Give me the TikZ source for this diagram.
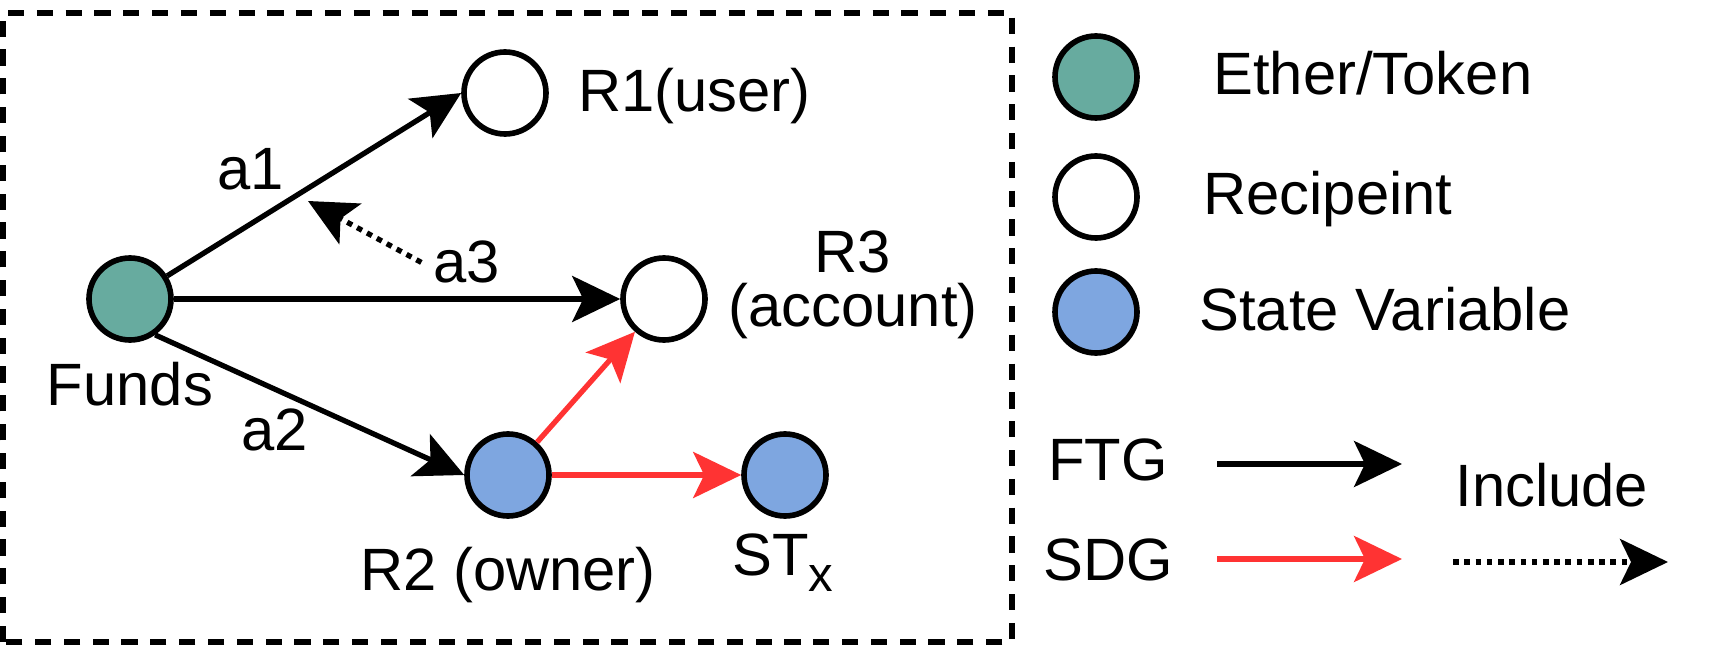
\documentclass[tikz,border=0pt]{standalone}
\usepackage{fontspec}
\setmainfont{Liberation Sans}
\usetikzlibrary{arrows.meta}
\definecolor{fundgreen}{HTML}{67AB9F}
\definecolor{varblue}{HTML}{7EA6E0}
\definecolor{depred}{HTML}{FF3333}

\begin{document}
\begin{tikzpicture}[every node/.style={font=\fontsize{17}{21}\selectfont},
    dot/.style={circle,draw,line width=1.6pt,minimum size=0.82cm,inner sep=0pt},
    fund/.style={dot,fill=fundgreen},recv/.style={dot,fill=white},svar/.style={dot,fill=varblue},
    ftg/.style={line width=1.5pt,-{Stealth[length=4.8mm,width=4.6mm,inset=1.1mm]}},
    sdg/.style={ftg,color=depred},
    incl/.style={ftg,dash pattern=on 1.6pt off 1.6pt}]
        \useasboundingbox (0,0) rectangle (17.15,6.55);
        \draw[line width=1.6pt,dash pattern=on 4.6pt off 3.6pt] (0.03,0.13) rectangle (10.12,6.42);
        \node[fund] (funds) at (1.30,3.56) {};
        \node[recv] (r1) at (5.05,5.62) {};
        \node[recv] (r3) at (6.64,3.56) {};
        \node[svar] (r2) at (5.08,1.80) {};
        \node[svar] (stx) at (7.85,1.80) {};
        \node[anchor=base] (fundslbl) at (1.30,2.50) {Funds};
        \node[anchor=base west] (r1lbl) at (5.66,5.43) {R1(user)};
        \node[anchor=south,align=center,inner sep=0pt,font=\fontsize{17}{15.5}\selectfont] (r3lbl) at (8.53,3.15) {R3\\(account)};
        \node[anchor=base] (r2lbl) at (5.08,0.65) {R2 (owner)};
        \node[anchor=base west] (stxlbl) at (7.20,0.80) {ST\raisebox{-4.8pt}{\fontsize{14}{14}\selectfont x}};
        \node[anchor=base] (a1) at (2.51,4.65) {a1};
        \node[anchor=base] (a3) at (4.67,3.72) {a3};
        \node[anchor=base] (a2) at (2.75,2.05) {a2};
        \draw[ftg] (funds) -- (r1.west);
        \draw[ftg] (funds) -- (r3);
        \draw[ftg] (funds.-55) -- (r2.west);
        \draw[sdg] (r2) -- (r3);
        \draw[sdg] (r2) -- (stx);
        \coordinate (a3tip) at (3.08,4.54);
        \draw[incl] (a3.west) -- (a3tip);
        \node[fund] (lgfund) at (10.96,5.78) {};
        \node[recv] (lgrecv) at (10.96,4.58) {};
        \node[svar] (lgsvar) at (10.96,3.43) {};
        \node[anchor=base west] (lgfundlbl) at (12.01,5.60) {Ether/Token};
        \node[anchor=base west] (lgrecvlbl) at (11.91,4.40) {Recipeint};
        \node[anchor=base west] (lgsvarlbl) at (11.87,3.25) {State Variable};
        \node[anchor=base] (ftglbl) at (11.08,1.75) {FTG};
        \node[anchor=base] (sdglbl) at (11.08,0.75) {SDG};
        \node[anchor=base west] (incllbl) at (14.43,1.49) {Include};
        \coordinate (ftgA) at (12.17,1.91); \coordinate (ftgB) at (14.02,1.91);
        \coordinate (sdgA) at (12.17,0.96); \coordinate (sdgB) at (14.02,0.96);
        \coordinate (inclA) at (14.53,0.93); \coordinate (inclB) at (16.68,0.93);
        \draw[ftg] (ftgA) -- (ftgB);
        \draw[sdg] (sdgA) -- (sdgB);
        \draw[incl] (inclA) -- (inclB);
      \end{tikzpicture}
\end{document}
